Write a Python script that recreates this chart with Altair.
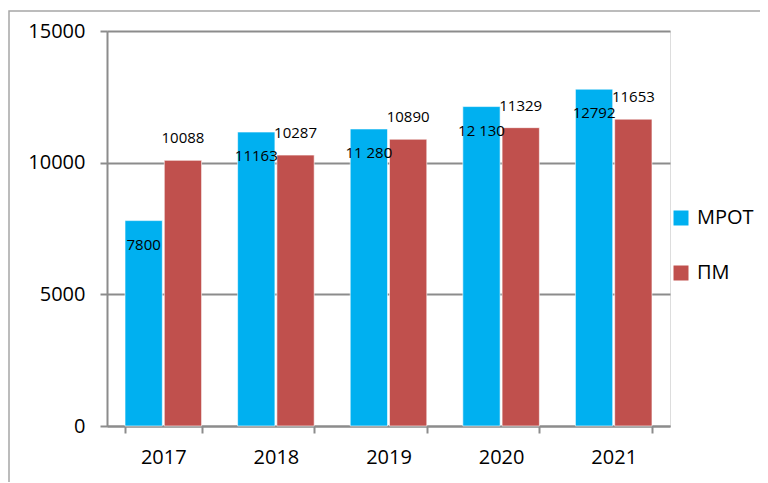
import altair as alt
import pandas as pd

years = ["2017", "2018", "2019", "2020", "2021"]
series = ["МРОТ", "ПМ"]
mrot_values = [7800, 11163, 11280, 12130, 12792]
pm_values = [10088, 10287, 10890, 11329, 11653]
mrot_labels = ["7800", "11163", "11 280", "12 130", "12792"]
pm_labels = ["10088", "10287", "10890", "11329", "11653"]
y_ticks = [0, 5000, 10000, 15000]
colors = ["#00B0F0", "#C0504D"]

rows = []
for i, y in enumerate(years):
    rows.append({"year": y, "series": series[0], "value": mrot_values[i], "label": mrot_labels[i]})
    rows.append({"year": y, "series": series[1], "value": pm_values[i], "label": pm_labels[i]})
df = pd.DataFrame(rows)

FONT = "Open Sans"
GRAY = "#8c8c8c"

x_enc = alt.X("year:N", sort=years, title=None,
              scale=alt.Scale(paddingInner=0.32, paddingOuter=0.16),
              axis=alt.Axis(labelAngle=0, labelFontSize=20, labelFont=FONT, labelColor="#000",
                            domainColor=GRAY, domainWidth=2, tickColor=GRAY, tickWidth=2,
                            tickSize=7, tickBand="extent", labelPadding=14, grid=False))
xoff = alt.XOffset("series:N", sort=series, scale=alt.Scale(paddingInner=0.05, paddingOuter=0))
y_enc = alt.Y("value:Q", title=None,
              scale=alt.Scale(domain=[0, 15000], nice=False),
              axis=alt.Axis(values=y_ticks, format="d", labelFontSize=20, labelFont=FONT,
                            labelColor="#000",
                            domainColor=GRAY, domainWidth=2, tickColor=GRAY, tickWidth=2,
                            tickSize=7, labelPadding=15, grid=True, gridColor=GRAY, gridWidth=2))

base = alt.Chart(df)

bars = base.mark_bar(stroke="#ffffff", strokeWidth=0.6).encode(
    x=x_enc, xOffset=xoff, y=y_enc,
    color=alt.Color("series:N", sort=series,
                    scale=alt.Scale(domain=series, range=colors),
                    legend=alt.Legend(title=None, orient="none", legendX=564, legendY=177,
                                      symbolType="square", symbolSize=225, symbolStrokeWidth=0,
                                      labelFontSize=20, labelFont=FONT, labelColor="#000",
                                      rowPadding=35, labelOffset=6)),
)

mrot_text = base.transform_filter(alt.datum.series == series[0]).mark_text(
    font=FONT, fontSize=15, color="#000", baseline="middle", dy=24
).encode(x=alt.X("year:N", sort=years), xOffset=xoff, y="value:Q", text="label:N")

pm_text = base.transform_filter(alt.datum.series == series[1]).mark_text(
    font=FONT, fontSize=15, color="#000", baseline="middle", dy=-22
).encode(x=alt.X("year:N", sort=years), xOffset=xoff, y="value:Q", text="label:N")

frame = alt.Chart(pd.DataFrame({"a": [0]})).mark_rect(
    fillOpacity=0, stroke="#a6a6a6", strokeWidth=1.5
).encode(x=alt.value(-98), x2=alt.value(1000), y=alt.value(-20), y2=alt.value(1000))

chart = alt.layer(frame, bars, mrot_text, pm_text).properties(
    width=563, height=395,
    autosize=alt.AutoSizeParams(type="none"),
    padding={"left": 99, "top": 23, "right": 90, "bottom": 56},
).configure_view(stroke=None).configure(background="white")

chart.save("out.html", embed_options={"renderer": "svg", "actions": False})
